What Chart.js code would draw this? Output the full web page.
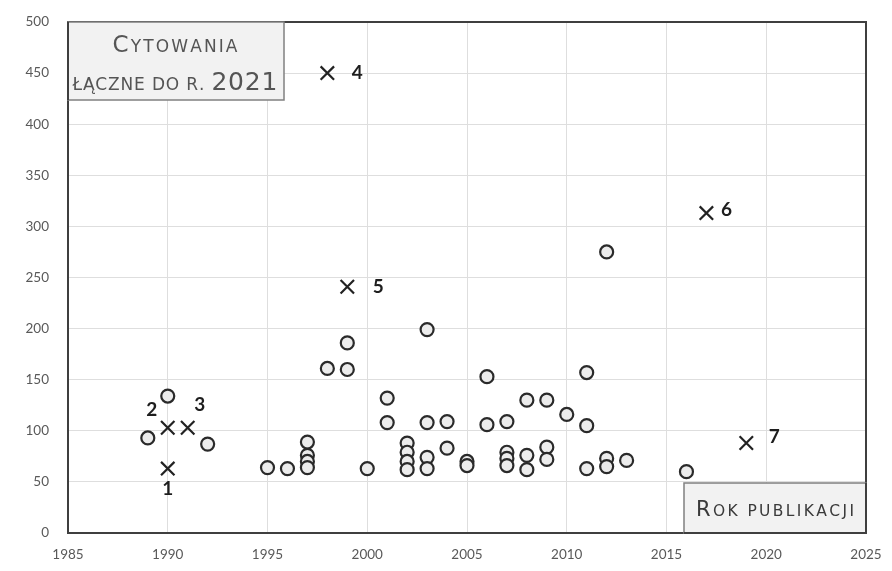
<!DOCTYPE html>
<html>
<head>
<meta charset="utf-8">
<script src="https://cdn.jsdelivr.net/npm/chart.js@4.4.0/dist/chart.umd.min.js"></script>
<style>
  html, body { margin: 0; padding: 0; background: #fff; }
  #wrap { width: 892px; height: 571px; }
</style>
</head>
<body>
<div id="wrap"><canvas id="chart" width="892" height="571"></canvas></div>
<script>
// publications (circles)
const circleYears = [1989, 1990, 1992, 1995, 1996, 1997, 1997, 1997, 1997, 1998, 1999, 1999, 2000,
  2001, 2001, 2002, 2002, 2002, 2002, 2003, 2003, 2003, 2003, 2004, 2004, 2005, 2005, 2006, 2006,
  2007, 2007, 2007, 2007, 2008, 2008, 2008, 2009, 2009, 2009, 2010, 2011, 2011, 2011, 2012, 2012, 2012,
  2013, 2016];
const circleCites = [93, 134, 87, 64, 63, 89, 76, 70, 64, 161, 186, 160, 63,
  132, 108, 88, 79, 70, 62, 199, 108, 74, 63, 109, 83, 70, 66, 153, 106,
  109, 79, 73, 66, 130, 76, 62, 130, 84, 72, 116, 157, 105, 63, 275, 73, 65,
  71, 60];

// highlighted publications (crosses)
const crossYears = [1990, 1990, 1991, 1998, 1999, 2017, 2019];
const crossCites = [63, 103, 103, 450, 241, 313, 88];
const crossLabels = ['1', '2', '3', '4', '5', '6', '7'];

const xTicks = [1985, 1990, 1995, 2000, 2005, 2010, 2015, 2020, 2025];
const yTicks = [0, 50, 100, 150, 200, 250, 300, 350, 400, 450, 500];

const yAxisTitle = ['Cytowania', 'łączne do r. 2021'];
const xAxisTitle = 'Rok publikacji';

const FONT = 'Lato, "Open Sans", sans-serif';
const BOX_FONT = '"DejaVu Sans", "Open Sans", sans-serif';
const GREY_TEXT = '#595959';

// label offsets for the crosses (px from the point)
const labelOffsets = [[0, 20], [-16, -18], [12, -23], [30, 0], [31, 0], [20, -3], [28, -6]];

// small caps: capitals and digits big, lowercase drawn as small capitals,
// letters spread so the line fills the given width
function isBig(ch) { return ch !== ch.toLowerCase() || /[0-9]/.test(ch); }
function drawSmallCaps(ctx, text, cx, y, big, small, width) {
  const chars = [...text];
  let natural = 0;
  const ws = chars.map(ch => {
    ctx.font = (isBig(ch) ? big : small) + 'px ' + BOX_FONT;
    const w = ctx.measureText(ch.toUpperCase()).width;
    natural += w;
    return w;
  });
  const gap = width ? Math.max(0, (width - natural) / (chars.length - 1)) : 0;
  let x = cx - (natural + gap * (chars.length - 1)) / 2;
  ctx.textAlign = 'left';
  ctx.textBaseline = 'alphabetic';
  chars.forEach((ch, i) => {
    ctx.font = (isBig(ch) ? big : small) + 'px ' + BOX_FONT;
    ctx.fillText(ch.toUpperCase(), x, y);
    x += ws[i] + gap;
  });
}

const overlay = {
  id: 'overlay',
  afterDatasetsDraw(chart) {
    const ctx = chart.ctx;
    const a = chart.chartArea;
    const xs = chart.scales.x, ys = chart.scales.y;
    ctx.save();

    // frame
    ctx.strokeStyle = '#3f3f3f';
    ctx.lineWidth = 2;
    ctx.strokeRect(a.left, a.top, a.right - a.left, a.bottom - a.top);

    // cross labels
    ctx.fillStyle = '#1e1e1e';
    ctx.font = 'bold 19px ' + FONT;
    ctx.textAlign = 'center';
    ctx.textBaseline = 'middle';
    crossLabels.forEach((lab, i) => {
      const px = xs.getPixelForValue(crossYears[i]) + labelOffsets[i][0];
      const py = ys.getPixelForValue(crossCites[i]) + labelOffsets[i][1];
      ctx.fillText(lab, px, py);
    });

    // y title box
    const tw = 216, th = 78;
    ctx.fillStyle = '#f2f2f2';
    ctx.strokeStyle = '#808080';
    ctx.lineWidth = 1.5;
    ctx.fillRect(a.left, a.top, tw, th);
    ctx.strokeRect(a.left, a.top, tw, th);
    ctx.fillStyle = '#555';
    drawSmallCaps(ctx, yAxisTitle[0], a.left + 107, a.top + 30, 23, 17, 125);
    drawSmallCaps(ctx, yAxisTitle[1], a.left + 107, a.top + 68, 25, 17, 205);

    // x title box
    const bw = 182, bh = 50;
    ctx.fillStyle = '#f2f2f2';
    ctx.strokeStyle = '#808080';
    ctx.fillRect(a.right - bw, a.bottom - bh, bw, bh);
    ctx.strokeRect(a.right - bw, a.bottom - bh, bw, bh);
    ctx.fillStyle = '#3a3a3a';
    drawSmallCaps(ctx, xAxisTitle, a.right - bw / 2, a.bottom - 17, 21, 15.5, 158);

    // redraw the frame edges the boxes sit on
    ctx.strokeStyle = '#3f3f3f';
    ctx.lineWidth = 2;
    ctx.beginPath();
    ctx.moveTo(a.left, a.top); ctx.lineTo(a.left, a.top + th);
    ctx.moveTo(a.right - bw, a.bottom); ctx.lineTo(a.right, a.bottom); ctx.lineTo(a.right, a.bottom - bh);
    ctx.stroke();
    ctx.restore();
  }
};

new Chart(document.getElementById('chart'), {
  type: 'scatter',
  data: {
    datasets: [
      {
        label: 'publikacje',
        data: circleYears.map((y, i) => ({ x: y, y: circleCites[i] })),
        pointStyle: 'circle',
        pointRadius: 6.5,
        pointBorderWidth: 2.2,
        pointBorderColor: '#2a2a2a',
        pointBackgroundColor: '#ececec',
      },
      {
        label: 'wyróżnione',
        data: crossYears.map((y, i) => ({ x: y, y: crossCites[i] })),
        pointStyle: 'crossRot',
        pointRadius: 9.5,
        pointBorderWidth: 2.2,
        pointBorderColor: '#222',
      },
    ],
  },
  options: {
    responsive: false,
    animation: false,
    events: [],
    layout: { autoPadding: false, padding: { left: 0, right: 26, top: 22, bottom: 0 } },
    plugins: {
      legend: { display: false },
      tooltip: { enabled: false },
    },
    scales: {
      x: {
        type: 'linear',
        min: 1985,
        max: 2025,
        afterBuildTicks: (s) => { s.ticks = xTicks.map(v => ({ value: v })); },
        // fixed height; label overhang handled by layout padding
        afterFit: (s) => { s.height = 38; s.paddingLeft = 0; s.paddingRight = 0; },
        ticks: { color: GREY_TEXT, font: { family: FONT, size: 13.5 }, padding: 14, callback: (v) => String(v) },
        grid: { color: '#dedede', lineWidth: 1, drawTicks: false },
        border: { display: false },
      },
      y: {
        min: 0,
        max: 500,
        afterBuildTicks: (s) => { s.ticks = yTicks.map(v => ({ value: v })); },
        afterFit: (s) => { s.width = 68; s.paddingTop = 0; s.paddingBottom = 0; },
        ticks: { color: GREY_TEXT, font: { family: FONT, size: 13.5 }, padding: 19 },
        grid: { color: '#dedede', lineWidth: 1, drawTicks: false },
        border: { display: false },
      },
    },
  },
  plugins: [overlay],
});
</script>
</body>
</html>
